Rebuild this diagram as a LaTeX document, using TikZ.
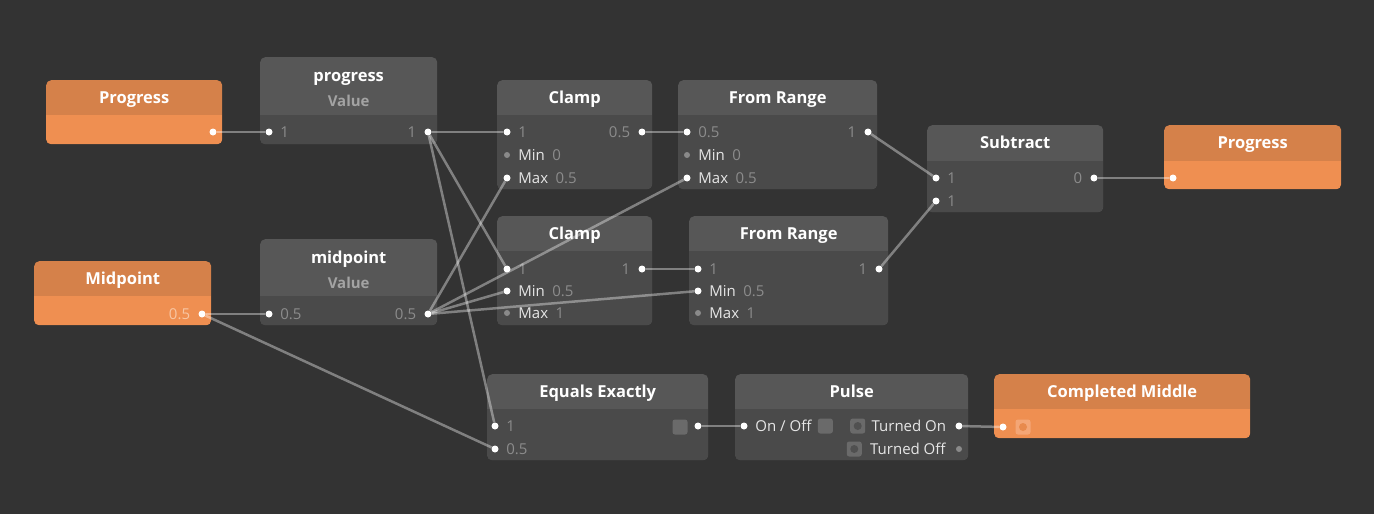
\documentclass[tikz,border=0pt]{standalone}
\usepackage{fontspec}
\setmainfont{Open Sans}
\usepackage{tikz}
\usetikzlibrary{positioning}
\usepackage{xcolor}
\definecolor{canvas}{HTML}{333333}
\definecolor{headgrey}{HTML}{575757}
\definecolor{bodygrey}{HTML}{4A4A4A}
\definecolor{headorange}{HTML}{D5814A}
\definecolor{bodyorange}{HTML}{EF8F51}
\definecolor{valgrey}{HTML}{8C8C8C}
\definecolor{subgrey}{HTML}{A3A3A3}
\definecolor{labelwhite}{HTML}{E6E6E6}
\definecolor{idlegrey}{HTML}{8A8A8A}
\definecolor{togglegrey}{HTML}{6A6A6A}
\definecolor{holegrey}{HTML}{505050}
\definecolor{togglepeach}{HTML}{F4A676}
\definecolor{holeorange}{HTML}{E88A4D}
\definecolor{valpeach}{HTML}{F8C6A3}
\tikzset{
  >=latex,
  % Common styles for the patch
  card/.style n args={5}{rectangle, rounded corners=5pt, inner sep=0pt, anchor=north west,
    minimum width=#1pt, minimum height=#2pt, fill=#4,
    path picture={\fill[#5, sharp corners] (path picture bounding box.south west)
      rectangle ([yshift=#3pt]path picture bounding box.south east);}},
  block/.style n args={3}{card={#1}{#2}{#3}{headgrey}{bodygrey}},
  iobox/.style n args={3}{card={#1}{#2}{#3}{headorange}{bodyorange}},
  wire/.style={draw=white, draw opacity=0.38, line width=2.5pt}
}

\begin{document}
\begin{tikzpicture}[x=1pt, y=-1pt]
    % Define styles
    \tikzstyle{title} = [text=white, font=\fontsize{16.5}{20}\selectfont\bfseries, anchor=base]
    \tikzstyle{sub} = [text=subgrey, font=\fontsize{15}{18}\selectfont\bfseries, anchor=base]
    \tikzstyle{lbl} = [text=labelwhite, font=\fontsize{15}{18}\selectfont, inner sep=0pt]
    \tikzstyle{val} = [text=valgrey, font=\fontsize{15}{18}\selectfont, inner sep=0pt]
    \tikzstyle{port} = [circle, fill=white, inner sep=0pt, minimum size=7pt]
    \tikzstyle{idle} = [circle, fill=idlegrey, inner sep=0pt, minimum size=6pt]
    \tikzstyle{toggle} = [rectangle, rounded corners=2.5pt, fill=togglegrey, inner sep=0pt, minimum size=15pt]
    \tikzstyle{trigger} = [toggle, path picture={\fill[holegrey] (path picture bounding box.center) circle (4pt);}]

    \useasboundingbox (0,0) rectangle (1374,514);
    \fill[canvas] (0,0) rectangle (1374,514);

    % Place nodes - inputs and value patches
    \node [iobox={176}{64}{29}] (progin) at (46,80) {};
    \node [title] at ([yshift=-23.5pt]progin.north) {Progress};
    \node [port] (progin-out) at (213,132) {};

    \node [block={177}{87}{29}] (progval) at (260,57) {};
    \node [title] at ([yshift=-24.5pt]progval.north) {progress};
    \node [sub] at ([yshift=-49.5pt]progval.north) {Value};
    \node [port] (progval-in) at (269,132) {};
    \node [val, right=7.5pt of progval-in] {1};
    \node [port] (progval-out) at (428,132) {};
    \node [val, left=8pt of progval-out] {1};

    \node [iobox={177}{64}{29}] (midin) at (34,261) {};
    \node [title] at ([yshift=-23.5pt]midin.north) {Midpoint};
    \node [port] (midin-out) at (202,314) {};
    \node [val, text=valpeach, left=8pt of midin-out] {0.5};

    \node [block={177}{86}{29}] (midval) at (260,239) {};
    \node [title] at ([yshift=-24.5pt]midval.north) {midpoint};
    \node [sub] at ([yshift=-49.5pt]midval.north) {Value};
    \node [port] (midval-in) at (269,314) {};
    \node [val, right=7.5pt of midval-in] {0.5};
    \node [port] (midval-out) at (428,314) {};
    \node [val, left=8pt of midval-out] {0.5};

    % Place nodes - clamp and range patches
    \node [block={155}{109}{74}] (clampA) at (497,80) {};
    \node [title] at ([yshift=-23.5pt]clampA.north) {Clamp};
    \node [port] (clampA-in) at (507,132) {};
    \node [val, right=7.5pt of clampA-in] {1};
    \node [idle] (clampA-min) at (507,155) {};
    \node [lbl, right=8pt of clampA-min] (clampA-minl) {Min};
    \node [val, right=7pt of clampA-minl] {0};
    \node [port] (clampA-max) at (507,178) {};
    \node [lbl, right=7.5pt of clampA-max] (clampA-maxl) {Max};
    \node [val, right=7pt of clampA-maxl] {0.5};
    \node [port] (clampA-out) at (642,132) {};
    \node [val, left=8pt of clampA-out] {0.5};

    \node [block={199}{109}{74}] (rangeA) at (678,80) {};
    \node [title] at ([yshift=-23.5pt]rangeA.north) {From Range};
    \node [port] (rangeA-in) at (687,132) {};
    \node [val, right=7.5pt of rangeA-in] {0.5};
    \node [idle] (rangeA-min) at (687,155) {};
    \node [lbl, right=8pt of rangeA-min] (rangeA-minl) {Min};
    \node [val, right=7pt of rangeA-minl] {0};
    \node [port] (rangeA-max) at (687,178) {};
    \node [lbl, right=7.5pt of rangeA-max] (rangeA-maxl) {Max};
    \node [val, right=7pt of rangeA-maxl] {0.5};
    \node [port] (rangeA-out) at (868,132) {};
    \node [val, left=8pt of rangeA-out] {1};

    \node [block={155}{109}{74}] (clampB) at (497,216) {};
    \node [title] at ([yshift=-23.5pt]clampB.north) {Clamp};
    \node [port] (clampB-in) at (507,269) {};
    \node [val, right=7.5pt of clampB-in] {1};
    \node [port] (clampB-min) at (507,291) {};
    \node [lbl, right=7.5pt of clampB-min] (clampB-minl) {Min};
    \node [val, right=7pt of clampB-minl] {0.5};
    \node [idle] (clampB-max) at (507,313) {};
    \node [lbl, right=8pt of clampB-max] (clampB-maxl) {Max};
    \node [val, right=7pt of clampB-maxl] {1};
    \node [port] (clampB-out) at (642,269) {};
    \node [val, left=8pt of clampB-out] {1};

    \node [block={199}{109}{74}] (rangeB) at (689,216) {};
    \node [title] at ([yshift=-23.5pt]rangeB.north) {From Range};
    \node [port] (rangeB-in) at (698,269) {};
    \node [val, right=7.5pt of rangeB-in] {1};
    \node [port] (rangeB-min) at (698,291) {};
    \node [lbl, right=7.5pt of rangeB-min] (rangeB-minl) {Min};
    \node [val, right=7pt of rangeB-minl] {0.5};
    \node [idle] (rangeB-max) at (698,313) {};
    \node [lbl, right=8pt of rangeB-max] (rangeB-maxl) {Max};
    \node [val, right=7pt of rangeB-maxl] {1};
    \node [port] (rangeB-out) at (879,269) {};
    \node [val, left=8pt of rangeB-out] {1};

    % Place nodes - subtract and output
    \node [block={176}{87}{51}] (sub) at (927,125) {};
    \node [title] at ([yshift=-23.5pt]sub.north) {Subtract};
    \node [port] (sub-a) at (936,178) {};
    \node [val, right=7.5pt of sub-a] {1};
    \node [port] (sub-b) at (936,201) {};
    \node [val, right=7.5pt of sub-b] {1};
    \node [port] (sub-out) at (1094,178) {};
    \node [val, left=8pt of sub-out] {0};

    \node [iobox={177}{64}{28}] (progout) at (1164,125) {};
    \node [title] at ([yshift=-23.5pt]progout.north) {Progress};
    \node [port] (progout-in) at (1173,178) {};

    % Place nodes - equals, pulse and trigger
    \node [block={221}{86}{51}] (equals) at (487,374) {};
    \node [title] at ([yshift=-23.5pt]equals.north) {Equals Exactly};
    \node [port] (equals-a) at (495,426) {};
    \node [val, right=7.5pt of equals-a] {1};
    \node [port] (equals-b) at (495,449) {};
    \node [val, right=7.5pt of equals-b] {0.5};
    \node [toggle] (equals-box) at (680,427) {};
    \node [port] (equals-out) at (698,426) {};

    \node [block={233}{86}{51}] (pulse) at (735,374) {};
    \node [title] at ([yshift=-23.5pt]pulse.north) {Pulse};
    \node [port] (pulse-in) at (744,426) {};
    \node [lbl, right=7.5pt of pulse-in] (pulse-inl) {On / Off};
    \node [toggle, right=6pt of pulse-inl] (pulse-box) {};
    \node [port] (pulse-on) at (959,426) {};
    \node [lbl, left=9pt of pulse-on] (pulse-onl) {Turned On};
    \node [trigger, left=6pt of pulse-onl] (pulse-onbox) {};
    \node [idle] (pulse-off) at (959,449) {};
    \node [lbl, left=10pt of pulse-off] (pulse-offl) {Turned Off};
    \node [trigger, left=8pt of pulse-offl] (pulse-offbox) {};

    \node [iobox={256}{64}{29}] (done) at (994,374) {};
    \node [title] at ([yshift=-23.5pt]done.north) {Completed Middle};
    \node [port] (done-in) at (1003,427) {};
    \node [toggle, fill=togglepeach, path picture={\fill[holeorange] (path picture bounding box.center) circle (4pt);}] (done-box) at (1023,427) {};

    % Draw edges between patches
    \path [wire] (progin-out) -- (progval-in);
    \path [wire] (progval-out) -- (clampA-in);
    \path [wire] (progval-out) -- (clampB-in);
    \path [wire] (progval-out) -- (equals-a);
    \path [wire] (midin-out) -- (midval-in);
    \path [wire] (midin-out) -- (equals-b);
    \path [wire] (midval-out) -- (clampA-max);
    \path [wire] (midval-out) -- (rangeA-max);
    \path [wire] (midval-out) -- (clampB-min);
    \path [wire] (midval-out) -- (rangeB-min);
    \path [wire] (clampA-out) -- (rangeA-in);
    \path [wire] (clampB-out) -- (rangeB-in);
    \path [wire] (rangeA-out) -- (sub-a);
    \path [wire] (rangeB-out) -- (sub-b);
    \path [wire] (sub-out) -- (progout-in);
    \path [wire] (equals-out) -- (pulse-in);
    \path [wire] (pulse-on) -- (done-in);

\end{tikzpicture}
\end{document}
